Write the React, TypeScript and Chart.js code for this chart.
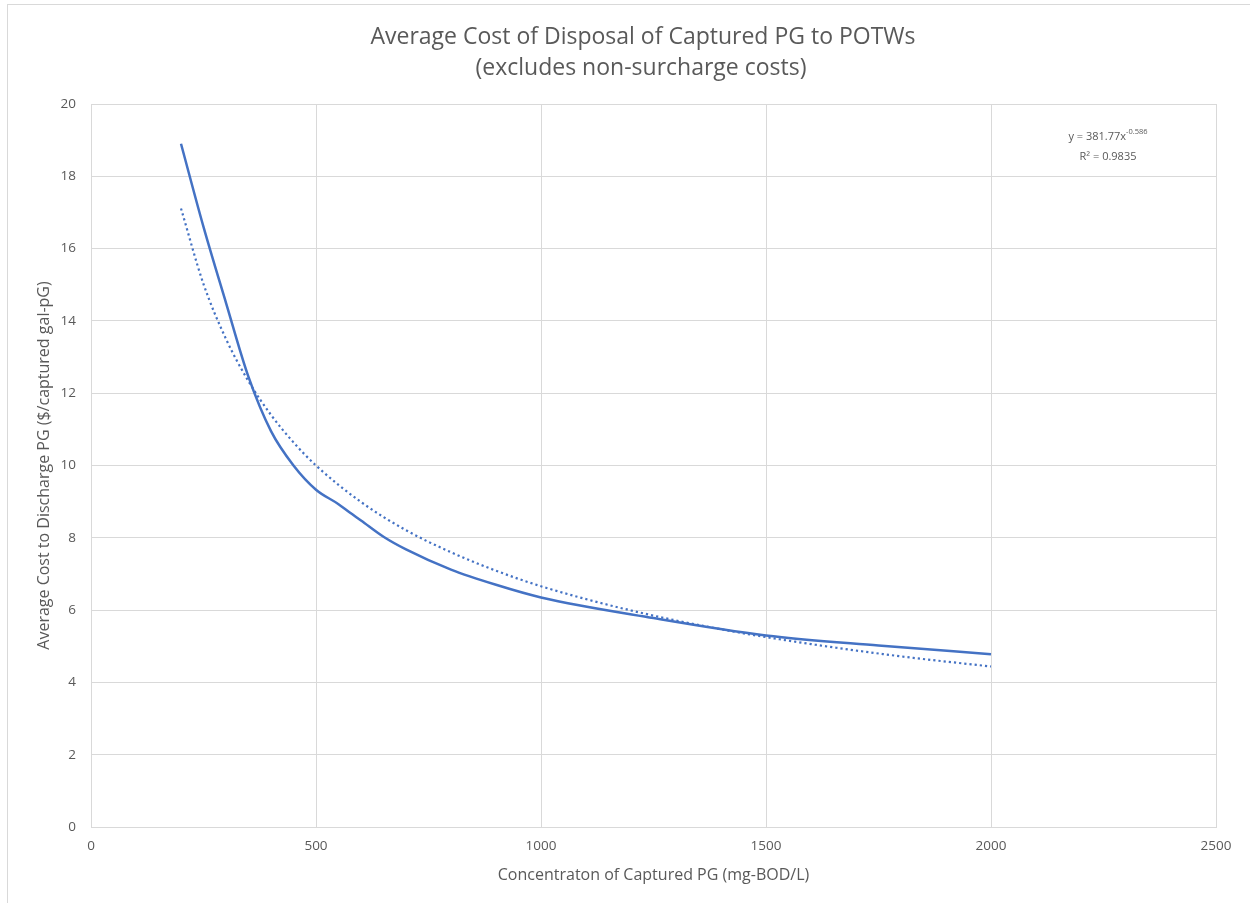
import React, { useEffect, useRef } from "react";
import { Chart, registerables } from "chart.js";

Chart.register(...registerables);

// Observed data (concentration mg-BOD/L vs average cost $/captured gal-pG)
const concentrationValues = [200, 250, 300, 350, 400, 450, 500, 550, 575, 600, 650, 700, 800, 900, 1000, 1250, 1500, 1750, 2000];
const costValues = [18.9, 16.6, 14.5, 12.45, 10.95, 10.0, 9.33, 8.93, 8.7, 8.48, 8.03, 7.68, 7.12, 6.7, 6.35, 5.78, 5.3, 5.02, 4.78];

// Power trendline as drawn (dotted)
const trendConcentration = [200, 250, 300, 350, 400, 450, 500, 600, 700, 800, 900, 1000, 1200, 1400, 1600, 1800, 2000];
const trendValues = [17.11, 15.02, 13.5, 12.33, 11.4, 10.64, 10.0, 8.99, 8.21, 7.6, 7.09, 6.66, 5.99, 5.47, 5.06, 4.72, 4.44];

const titleLines = ["Average Cost of Disposal of Captured PG to POTWs", "(excludes non-surcharge costs)"];
const xAxisTitle = "Concentraton of Captured PG (mg-BOD/L)";
const yAxisTitle = "Average Cost to Discharge PG ($/captured gal-pG)";
const equationBase = "y = 381.77x";
const equationExponent = "-0.586";
const rSquaredText = "R² = 0.9835";

const FONT = "'Open Sans', 'Liberation Sans', sans-serif";
const TEXT_COLOR = "#595959";
const LINE_COLOR = "#4472C4";
const GRID_COLOR = "#d9d9d9";

const textPlugin = {
  id: "textPlugin",
  afterDraw(chart: any) {
    const { ctx, chartArea } = chart;
    const cx = (chartArea.left + chartArea.right) / 2;
    ctx.save();
    ctx.fillStyle = TEXT_COLOR;
    ctx.textAlign = "center";
    ctx.textBaseline = "middle";
    // Title
    ctx.font = `23px ${FONT}`;
    ctx.fillText(titleLines[0], 643, 37);
    ctx.fillText(titleLines[1], 641, 68);
    // X axis title
    ctx.font = `16px ${FONT}`;
    ctx.fillText(xAxisTitle, cx, 875);
    // Y axis title
    ctx.save();
    ctx.translate(44, (chartArea.top + chartArea.bottom) / 2);
    ctx.rotate(-Math.PI / 2);
    ctx.fillText(yAxisTitle, 0, 0);
    ctx.restore();
    // Equation
    ctx.font = `11px ${FONT}`;
    const baseW = ctx.measureText(equationBase).width;
    ctx.font = `7.5px ${FONT}`;
    const expW = ctx.measureText(equationExponent).width;
    const eqCx = 1108;
    const startX = eqCx - (baseW + expW) / 2;
    ctx.textAlign = "left";
    ctx.font = `11px ${FONT}`;
    ctx.fillText(equationBase, startX, 137);
    ctx.font = `7.5px ${FONT}`;
    ctx.fillText(equationExponent, startX + baseW, 132);
    ctx.textAlign = "center";
    ctx.font = `11px ${FONT}`;
    ctx.fillText(rSquaredText, eqCx, 157);
    ctx.restore();
  },
};

export default function App() {
  const canvasRef = useRef<HTMLCanvasElement | null>(null);

  useEffect(() => {
    if (!canvasRef.current) return;
    const chart = new Chart(canvasRef.current, {
      type: "line",
      data: {
        datasets: [
          {
            label: "Average Cost",
            data: concentrationValues.map((x, i) => ({ x, y: costValues[i] })),
            borderColor: LINE_COLOR,
            backgroundColor: LINE_COLOR,
            borderWidth: 2.5,
            pointRadius: 0,
            cubicInterpolationMode: "monotone",
            fill: false,
          },
          {
            label: "Power trendline",
            data: trendConcentration.map((x, i) => ({ x, y: trendValues[i] })),
            borderColor: LINE_COLOR,
            backgroundColor: LINE_COLOR,
            borderWidth: 2.2,
            borderDash: [2.2, 3],
            pointRadius: 0,
            cubicInterpolationMode: "monotone",
            fill: false,
          },
        ],
      },
      options: {
        animation: false,
        responsive: false,
        maintainAspectRatio: false,
        layout: { padding: { top: 104, left: 0, right: 34, bottom: 0 } },
        plugins: {
          legend: { display: false },
          title: { display: false },
          tooltip: { enabled: false },
        },
        scales: {
          x: {
            type: "linear",
            min: 0,
            max: 2500,
            ticks: {
              stepSize: 500,
              color: TEXT_COLOR,
              font: { family: FONT, size: 13.5 },
              padding: 11,
              maxRotation: 0,
              callback: (v: any) => String(v),
            },
            grid: { color: GRID_COLOR, lineWidth: 1, drawTicks: false },
            border: { color: GRID_COLOR, width: 1 },
            afterFit: (scale: any) => {
              scale.height = 76;
            },
          },
          y: {
            min: 0,
            max: 20,
            ticks: {
              stepSize: 2,
              color: TEXT_COLOR,
              font: { family: FONT, size: 13.5 },
              padding: 15,
              callback: (v: any) => String(v),
            },
            grid: { color: GRID_COLOR, lineWidth: 1, drawTicks: false },
            border: { color: GRID_COLOR, width: 1 },
            afterFit: (scale: any) => {
              scale.width = 91;
            },
          },
        },
      },
      plugins: [textPlugin],
    });
    return () => chart.destroy();
  }, []);

  return (
    <div style={{ position: "fixed", left: 0, top: 0, width: 1250, height: 903, overflow: "hidden", background: "#fff" }}>
      <div
        style={{
          position: "absolute",
          left: 7,
          top: 4,
          width: 1400,
          height: 1100,
          borderTop: "1.5px solid #d9d9d9",
          borderLeft: "1.5px solid #d9d9d9",
        }}
      />
      <canvas ref={canvasRef} width={1250} height={903} style={{ position: "absolute", left: 0, top: 0 }} />
    </div>
  );
}
